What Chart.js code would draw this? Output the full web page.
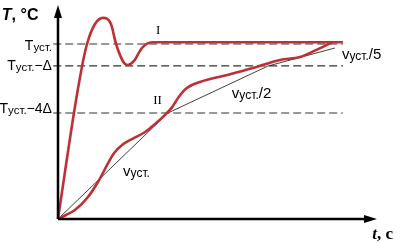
<!DOCTYPE html>
<html>
<head>
<meta charset="utf-8">
<script src="https://cdn.jsdelivr.net/npm/chart.js@4"></script>
<style>
  body { margin: 0; background: #fff; }
  canvas { display: block; }
</style>
</head>
<body>
<canvas id="chart" width="400" height="243"></canvas>
<script>
// curve I (fast, overshoot) and curve II (slow) - [t, T]
const curveI = [[0, 0], [5.0, 60.6], [7.5, 86.9], [9.1, 100], [11.6, 111.4], [14.1, 114.9],
  [16.6, 111.4], [18.2, 100], [20.7, 89.1], [21.9, 88], [23.8, 90.3], [26.3, 97.7],
  [29.5, 101], [89.3, 101]];
const curveII = [[0, 0], [2.5, 2.3], [5.3, 5.1], [9.4, 12.6], [12.9, 22.3], [15.4, 30.9],
  [17.6, 37.7], [20.1, 42.3], [23.2, 45.7], [27.3, 49.7], [30.4, 54.3], [33.5, 59.4],
  [35.6, 63.5], [38.2, 70.6], [40.4, 74.9], [44.5, 78.3], [53, 82.3], [61.1, 86.3],
  [69.6, 90.9], [75.9, 92.6], [81.5, 97.1], [85.9, 101]];

// rate lines v, v/2, v/5
const rampT = [0, 34.5, 65.8, 86.8];
const rampTemp = [0, 60.6, 87.4, 97.7];
const rampLabels = ['vуст.', 'vуст./2', 'vуст./5'];

// levels
const levels = [100, 87.5, 60.6];
const levelLabels = ['Tуст.', 'Tуст.−Δ', 'Tуст.−4Δ'];
const levelStart = -1.5, levelEnd = 89.3;

const curveLabels = ['I', 'II'];
const yTitle = ['T', ', °C'];
const xTitle = ['t', ', c'];
const tMax = 100, tempMax = 122.3;

const RED = '#bf3035';
const SANS = "'Liberation Sans Narrow', 'Liberation Sans', Arial, sans-serif";

const toPts = arr => arr.map(p => ({ x: p[0], y: p[1] }));

const datasets = [
  { data: toPts(curveI), borderColor: RED, borderWidth: 2.6, cubicInterpolationMode: 'monotone' },
  { data: toPts(curveII), borderColor: RED, borderWidth: 2.6, cubicInterpolationMode: 'monotone' },
  { data: rampT.map((t, i) => ({ x: t, y: rampTemp[i] })), borderColor: '#111', borderWidth: 0.8 }
];
levels.forEach(v => {
  datasets.push({
    data: [{ x: levelStart, y: v }, { x: levelEnd, y: v }],
    borderColor: '#333', borderWidth: 1.1, borderDash: [8, 4]
  });
});

// text with "уст." lowered and smaller
function drawRich(ctx, label, x, y, align, big, small) {
  const m = label.match(/^(T|v)(уст\.)(.*)$/);
  const parts = [
    { s: m[1], f: big + 'px ' + SANS, dy: 0 },
    { s: m[2], f: small + 'px ' + SANS, dy: 2 },
    { s: m[3], f: big + 'px ' + SANS, dy: 0 }
  ];
  let w = 0;
  parts.forEach(p => { ctx.font = p.f; p.w = ctx.measureText(p.s).width; w += p.w; });
  let cx = align === 'right' ? x - w : x;
  ctx.textBaseline = 'middle';
  ctx.textAlign = 'left';
  parts.forEach(p => { ctx.font = p.f; ctx.fillText(p.s, cx, y + p.dy); cx += p.w; });
}

const overlay = {
  id: 'overlay',
  afterDatasetsDraw(chart) {
    const ctx = chart.ctx;
    const xs = chart.scales.x, ys = chart.scales.y;
    const X = v => xs.getPixelForValue(v), Y = v => ys.getPixelForValue(v);
    const x0 = X(0), y0 = Y(0), xe = X(tMax), ye = Y(tempMax);
    ctx.save();
    ctx.fillStyle = '#000';
    ctx.strokeStyle = '#000';
    ctx.lineWidth = 2.5;
    ctx.beginPath();
    ctx.moveTo(x0, y0); ctx.lineTo(x0, ye + 8);
    ctx.moveTo(x0, y0); ctx.lineTo(xe - 8, y0);
    ctx.stroke();
    // arrowheads
    ctx.beginPath();
    ctx.moveTo(x0, ye); ctx.lineTo(x0 - 4, ye + 13); ctx.lineTo(x0 + 4, ye + 13); ctx.closePath();
    ctx.moveTo(xe, y0); ctx.lineTo(xe - 13, y0 - 4); ctx.lineTo(xe - 13, y0 + 4); ctx.closePath();
    ctx.fill();

    // level labels
    levels.forEach((v, i) => {
      drawRich(ctx, levelLabels[i], X(-1.9), Y(v) - (i === 0 ? -2 : i === 2 ? 4 : 0), 'right', 14, 11.5);
    });
    // rate labels
    const rampPos = [[20.4, 26.9], [54.5, 71.4], [89, 93.7]];
    rampLabels.forEach((s, i) => drawRich(ctx, s, X(rampPos[i][0]), Y(rampPos[i][1]), 'left', 15, 12));

    // curve numbers
    ctx.font = "13px 'Liberation Serif', 'Times New Roman', serif";
    ctx.textAlign = 'center';
    ctx.textBaseline = 'middle';
    ctx.fillText(curveLabels[0], X(31.4), Y(107.4));
    ctx.fillText(curveLabels[1], X(31.2), Y(67.7));

    // axis titles
    ctx.textAlign = 'left';
    ctx.textBaseline = 'alphabetic';
    let tx = X(-17.6);
    ctx.font = "italic bold 16px 'Liberation Sans', Arial, sans-serif";
    ctx.fillText(yTitle[0], tx, Y(113.6));
    tx += ctx.measureText(yTitle[0]).width;
    ctx.font = "bold 16px 'Liberation Sans', Arial, sans-serif";
    ctx.fillText(yTitle[1], tx, Y(113.6));

    tx = X(98.5);
    ctx.font = "italic bold 17px 'Liberation Serif', 'Times New Roman', serif";
    ctx.fillText(xTitle[0], tx, Y(-11.4));
    tx += ctx.measureText(xTitle[0]).width;
    ctx.font = "bold 17px 'Liberation Serif', 'Times New Roman', serif";
    ctx.fillText(xTitle[1], tx, Y(-11.4));
    ctx.restore();
  }
};

new Chart(document.getElementById('chart').getContext('2d'), {
  type: 'scatter',
  data: { datasets: datasets.map(d => Object.assign({ showLine: true, pointRadius: 0, fill: false }, d)) },
  options: {
    responsive: false,
    animation: false,
    layout: { padding: 0 },
    plugins: { legend: { display: false }, tooltip: { enabled: false } },
    scales: {
      x: { type: 'linear', display: false, min: -18.18, max: 107.21 },
      y: { type: 'linear', display: false, min: -13.71, max: 125.14 }
    }
  },
  plugins: [overlay]
});
</script>
</body>
</html>
